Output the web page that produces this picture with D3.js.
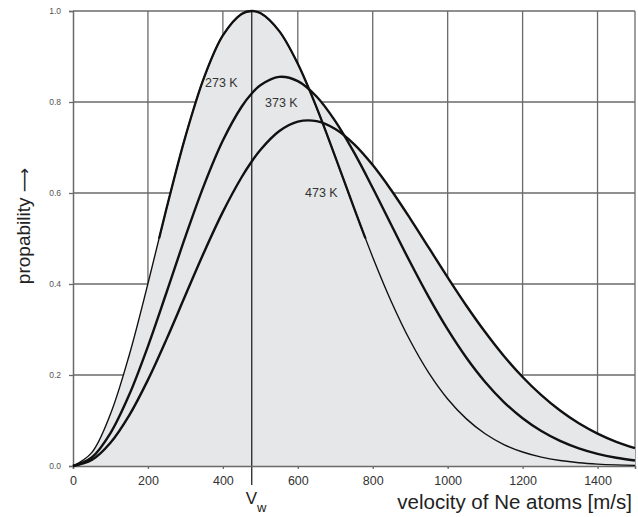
<!DOCTYPE html>
<html><head><meta charset="utf-8">
<script src="https://cdn.jsdelivr.net/npm/d3@7"></script>
<style>body{margin:0;background:#fff}svg{display:block}text{font-family:"Liberation Sans",Arial,sans-serif}</style>
</head><body><svg id="c" width="638" height="517"></svg>
<script>
const velocities = [0,50,100,150,200,250,300,350,400,450,477,500,550,600,650,700,750,800,850,900,950,1000,1050,1100,1150,1200,1250,1300,1350,1400,1450,1500];
const p273 = [0,0.0295,0.1143,0.2435,0.4008,0.5674,0.7240,0.8542,0.9462,0.9935,1.0000,0.9954,0.9563,0.8840,0.7882,0.6794,0.5672,0.4590,0.3606,0.2752,0.2042,0.1474,0.1036,0.0709,0.0472,0.0307,0.0194,0.0120,0.0072,0.0042,0.0024,0.0014];
const p373 = [0,0.0186,0.0724,0.1565,0.2631,0.3824,0.5040,0.6179,0.7153,0.7896,0.8186,0.8368,0.8552,0.8459,0.8120,0.7579,0.6891,0.6111,0.5291,0.4477,0.3705,0.3001,0.2379,0.1847,0.1406,0.1049,0.0768,0.0551,0.0388,0.0268,0.0182,0.0121];
const p473 = [0,0.0130,0.0511,0.1113,0.1893,0.2794,0.3752,0.4703,0.5585,0.6346,0.6692,0.6946,0.7356,0.7567,0.7579,0.7406,0.7074,0.6613,0.6055,0.5437,0.4792,0.4146,0.3523,0.2945,0.2419,0.1956,0.1556,0.1218,0.0938,0.0712,0.0532,0.0392];
const seriesNames = ["273 K","373 K","473 K"];
const xTicks = [0,200,400,600,800,1000,1200,1400];
const yTicks = [0,0.2,0.4,0.6,0.8,1.0];
const vw = 477;

const svg = d3.select("#c");
const x = d3.scaleLinear().domain([0,1500]).range([73,635]);
const y = d3.scaleLinear().domain([0,1]).range([466,11]);
const series = [p273,p373,p473];
const gridC = "#6a6a6a";

// grid
svg.append("g").selectAll("line").data(yTicks.filter(d=>d>0)).join("line")
  .attr("x1",x(0)).attr("x2",x(1500)).attr("y1",d=>y(d)).attr("y2",d=>y(d))
  .attr("stroke",gridC).attr("stroke-width",1.3);
svg.append("g").selectAll("line").data(xTicks.filter(d=>d>0).concat([1500])).join("line")
  .attr("x1",d=>x(d)).attr("x2",d=>x(d)).attr("y1",y(0)).attr("y2",y(1))
  .attr("stroke",gridC).attr("stroke-width",1.3);

// filled union of areas
const area = d3.area().x((d,i)=>x(velocities[i])).y0(y(0)).y1(d=>y(d)).curve(d3.curveCatmullRom);
series.forEach(s=>{
  svg.append("path").datum(s).attr("d",area).attr("fill","#e6e7e8").attr("stroke","none");
});

// V_w line
svg.append("line").attr("x1",x(vw)).attr("x2",x(vw)).attr("y1",y(1)).attr("y2",y(0)+19)
  .attr("stroke","#333").attr("stroke-width",1.4);

// axes
const yAxis = d3.axisLeft(y).tickValues(yTicks).tickSize(4).tickFormat(d3.format(".1f"));
const gy = svg.append("g").attr("transform",`translate(${x(0)},0)`).call(yAxis);
gy.select(".domain").attr("stroke",gridC).attr("stroke-width",1.5);
gy.selectAll(".tick line").attr("stroke",gridC).attr("stroke-width",1.3);
gy.selectAll(".tick text").attr("x",-12).attr("fill","#555").style("font-size","8.5px").style("font-family","Liberation Sans, Arial, sans-serif");

const xAxis = d3.axisBottom(x).tickValues(xTicks).tickSize(3).tickFormat(d3.format("d"));
const gx = svg.append("g").attr("transform",`translate(0,${y(0)})`).call(xAxis);
gx.select(".domain").attr("stroke",gridC).attr("stroke-width",1.5);
gx.selectAll(".tick line").attr("stroke",gridC).attr("stroke-width",1.3);
gx.selectAll(".tick text").attr("y",10).attr("fill","#333").style("font-size","12.5px").style("font-family","Liberation Sans, Arial, sans-serif");

// curves
const line = d3.line().x((d,i)=>x(velocities[i])).y(d=>y(d)).curve(d3.curveCatmullRom);
svg.append("defs").append("clipPath").attr("id","top")
  .append("rect").attr("x",x(0)).attr("y",y(1)-5).attr("width",x(1500)-x(0)).attr("height",y(0.5)-y(1)+5);
svg.append("path").datum(p273).attr("d",line).attr("fill","none").attr("stroke","#111").attr("stroke-width",1.4);
svg.append("path").datum(p273).attr("d",line).attr("fill","none").attr("stroke","#111").attr("stroke-width",2.3).attr("clip-path","url(#top)");
svg.append("path").datum(p373).attr("d",line).attr("fill","none").attr("stroke","#111").attr("stroke-width",2.4);
svg.append("path").datum(p473).attr("d",line).attr("fill","none").attr("stroke","#111").attr("stroke-width",2.4);

// curve labels
const labelPos = [[205,86.5],[265,106.5],[305,196.5]];
svg.append("g").selectAll("text").data(seriesNames).join("text")
  .attr("x",(d,i)=>labelPos[i][0]).attr("y",(d,i)=>labelPos[i][1])
  .attr("fill","#333").style("font-size","12.5px").text(d=>d);

// V_w label
const vt = svg.append("text").attr("x",x(vw)-6).attr("y",504).attr("fill","#222").style("font-size","17px");
vt.append("tspan").text("V");
vt.append("tspan").attr("dy",8).style("font-size","13px").text("w");

// axis titles
svg.append("text").attr("x",632).attr("y",509).attr("text-anchor","end").attr("fill","#222")
  .style("font-size","20.5px").text("velocity of Ne atoms [m/s]");
const yt = svg.append("text").attr("transform","translate(30,226) rotate(-90)").attr("text-anchor","middle").attr("fill","#222")
  .style("font-size","19px");
yt.append("tspan").text("propability ");
yt.append("tspan").style("font-family","DejaVu Sans").style("font-size","17px").text("\u27F6");
</script></body></html>
